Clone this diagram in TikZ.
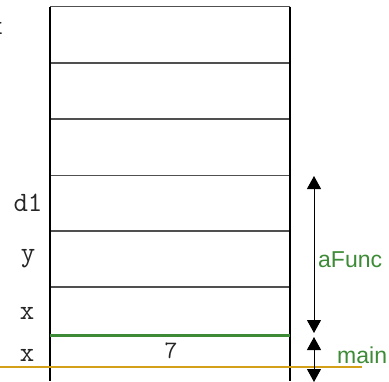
\documentclass[tikz,border=0pt]{standalone}
\usepackage{fontspec}
\setmainfont{Liberation Sans}
\usepackage{xcolor}
\usepackage{tikz}
\usetikzlibrary{arrows.meta, positioning}

\definecolor{framegreen}{RGB}{61,139,55}
\definecolor{maingold}{RGB}{212,160,23}
\definecolor{rowgray}{RGB}{80,80,80}

\tikzset{
	rowline/.style={draw=rowgray, line width=1.3pt},
	wall/.style={draw=black, line width=1.2pt},
	varlabel/.style={font=\fontsize{28}{28}\ttfamily, text=black!85, inner sep=0pt},
	framelabel/.style={font=\fontsize{23}{23}\selectfont, text=framegreen, inner sep=0pt, anchor=west},
	span/.style={line width=1pt, {Triangle[width=14pt,length=13pt]}-{Triangle[width=14pt,length=13pt]}}
}

\begin{document}
\begin{tikzpicture}[x=1pt, y=-1pt]
				\useasboundingbox (0,0) rectangle (389,381);
				% Stack cells:
				\foreach \y in {6.5, 63, 119, 175.5, 231, 287}
					\draw[rowline] (50,\y) -- (290,\y);
				\coordinate (TL) at (50,6.5);
				\coordinate (BL) at (50,381);
				\coordinate (TR) at (290,6.5);
				\coordinate (BR) at (290,381);
				\draw[wall] (TL) -- (BL);
				\draw[wall] (TR) -- (BR);
				% Frame boundaries:
				\coordinate (G1) at (50,335);
				\coordinate (G2) at (290,335);
				\draw[framegreen, line width=3pt] (G1) -- (G2);
				\coordinate (O1) at (0,367);
				\coordinate (O2) at (362,367);
				\draw[maingold, line width=1.5pt] (O1) -- (O2);
				% Variable names and values:
				\node[varlabel, anchor=east] (V0) at (3,28){x};
				\node[varlabel] (V1) at (28,203){d1};
				\node[varlabel] (V2) at (28,259){y};
				\node[varlabel] (V3) at (27,313){x};
				\node[varlabel] (V4) at (27,355){x};
				\node[varlabel, font=\fontsize{25}{25}\ttfamily] (V5) at (171,351){7};
				% Frame extents:
				\coordinate (A1) at (314,176);
				\coordinate (A2) at (314,333);
				\coordinate (A3) at (314,337);
				\coordinate (A4) at (314,382);
				\draw[span] (A1) -- (A2);
				\draw[span] (A3) -- (A4);
				\node[framelabel] (F1) at (318,260){aFunc};
				\node[framelabel] (F2) at (337,355){main};
			\end{tikzpicture}
\end{document}
